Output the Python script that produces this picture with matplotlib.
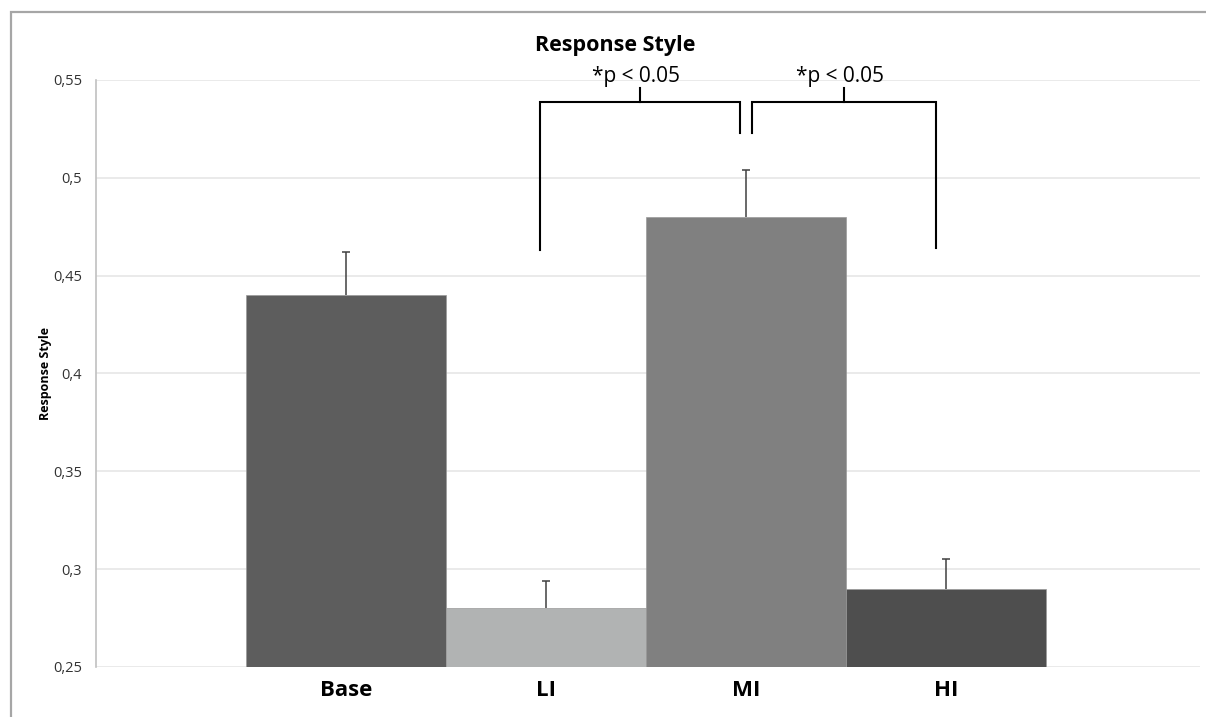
import matplotlib.pyplot as plt
from matplotlib.patches import Rectangle

categories = ['Base', 'LI', 'MI', 'HI']
means = [0.44, 0.28, 0.48, 0.29]
errors = [0.022, 0.014, 0.024, 0.015]
bar_colors = ['#5d5d5d', '#b1b3b3', '#808080', '#4e4e4e']
yticks = [0.25, 0.3, 0.35, 0.4, 0.45, 0.5, 0.55]
ytick_labels = ['0,25', '0,3', '0,35', '0,4', '0,45', '0,5', '0,55']

# significance comparisons: (from bar, to bar, label)
comparisons = [(1, 2, '*p < 0.05'), (2, 3, '*p < 0.05')]

plt.rcParams['font.family'] = ['Open Sans', 'DejaVu Sans']

fig = plt.figure(figsize=(12.06, 7.17), dpi=100)

## outer chart frame
fig.patches.append(Rectangle((11 / 1206, -0.05), 1.1, 1 - 12 / 717 + 0.05,
                             transform=fig.transFigure, fill=False,
                             edgecolor='#a6a6a6', linewidth=1.6))

ax = fig.add_axes([96 / 1206, 1 - 667 / 717, 1 - 96 / 1206 - 6 / 1206, (667 - 80) / 717])

x = list(range(len(categories)))
ax.bar(x, means, width=1.0, color=bar_colors, edgecolor='#9a9a9a', linewidth=0.5, zorder=2)

## upward-only error bars
tops = [m + e for m, e in zip(means, errors)]
ax.vlines(x, means, tops, color='#404040', linewidth=1.1, zorder=3)
ax.hlines(tops, [i - 0.02 for i in x], [i + 0.02 for i in x], color='#404040', linewidth=1.1, zorder=3)

ax.set_xlim(-1.25, 4.27)
ax.set_ylim(0.25, 0.55)
ax.set_yticks(yticks)
ax.set_yticklabels(ytick_labels, fontsize=10.5, color='#333333')
ax.set_xticks(x)
ax.set_xticklabels(categories, fontsize=16, fontweight='bold')
ax.tick_params(axis='both', length=0)
ax.tick_params(axis='y', pad=10)
ax.tick_params(axis='x', pad=9)
ax.grid(axis='y', color='#e6e6e6', linewidth=1.2, zorder=0)
ax.set_axisbelow(True)
for side in ['top', 'right', 'bottom']:
    ax.spines[side].set_visible(False)
ax.spines['left'].set_color('#c0c0c0')
ax.spines['left'].set_linewidth(1.2)

ax.set_ylabel('Response Style', fontsize=9, fontweight='bold')
ax.yaxis.label.set_va('center')
ax.yaxis.set_label_coords((45 - 96) / 1104, 0.5)
fig.text(615 / 1206, 1 - 45 / 717, 'Response Style', ha='center', va='center',
         fontsize=15.5, fontweight='bold')

## significance brackets
top = 0.5387
for i, j, label in comparisons:
    if i == 1:
        xl, xr = i - 0.03, j - 0.03
        yl, yr = 0.463, 0.523
    else:
        xl, xr = i + 0.03, j - 0.05
        yl, yr = 0.523, 0.464
    ax.plot([xl, xl, xr, xr], [yl, top, top, yr], color='black', lw=1.5,
            clip_on=False, zorder=4, solid_joinstyle='miter')
    xm = (xl + xr) / 2
    ax.plot([xm, xm], [top, 0.546], color='black', lw=1.5, clip_on=False, zorder=4)
    ax.text(xm - 0.02, 0.552, label, ha='center', va='center', fontsize=15, clip_on=False)

fig.savefig('out.png', dpi=100)
